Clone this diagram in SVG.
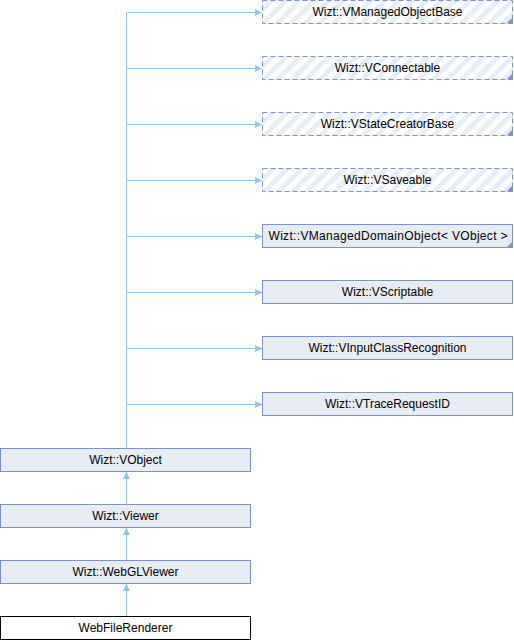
<svg xmlns="http://www.w3.org/2000/svg" width="514" height="640" viewBox="0 0 514 640">
<defs>
<pattern id="hatch" patternUnits="userSpaceOnUse" width="10" height="10" patternTransform="rotate(45)">
<rect width="10" height="10" fill="#ffffff"/>
<rect x="0" y="0" width="5" height="10" fill="#e8ecf5"/>
</pattern>
<marker id="arr" viewBox="0 0 10 10" refX="10" refY="5" markerWidth="7" markerHeight="7" markerUnits="userSpaceOnUse" orient="auto">
<path d="M0,0 L10,5 L0,10 z" fill="#8fc3e8"/>
</marker>
</defs>
<style>
.n{fill:#e8ecf5;stroke:#7b93c9;stroke-width:1}
.d{fill:url(#hatch);stroke:#7b93c9;stroke-width:1;stroke-dasharray:5,3}
.w{fill:#ffffff;stroke:#000000;stroke-width:1}
.t{font-family:"Liberation Sans",Arial,sans-serif;font-size:12px;fill:#000000}
.c{text-anchor:middle}
.e{fill:none;stroke:#8fc3e8;stroke-width:1}
.tri{fill:#7b93c9}
</style>
<g id="connectors">
<path class="e" d="M126.5,448 V12.5"/>
<path class="e" d="M126.5,12.5 H262" marker-end="url(#arr)"/>
<path class="e" d="M126.5,68.5 H262" marker-end="url(#arr)"/>
<path class="e" d="M126.5,124.5 H262" marker-end="url(#arr)"/>
<path class="e" d="M126.5,180.5 H262" marker-end="url(#arr)"/>
<path class="e" d="M126.5,236.5 H262" marker-end="url(#arr)"/>
<path class="e" d="M126.5,292.5 H262" marker-end="url(#arr)"/>
<path class="e" d="M126.5,348.5 H262" marker-end="url(#arr)"/>
<path class="e" d="M126.5,404.5 H262" marker-end="url(#arr)"/>
<path class="e" d="M126.5,504 V472" marker-end="url(#arr)"/>
<path class="e" d="M126.5,560 V528" marker-end="url(#arr)"/>
<path class="e" d="M126.5,616 V584" marker-end="url(#arr)"/>
</g>
<g id="n1"><rect class="d" x="262.5" y="0.5" width="250" height="23"/><path class="tri" d="M513,17 L513,23.5 L506.5,23.5 z"/><text class="t c" x="387.5" y="16">Wizt::VManagedObjectBase</text></g>
<g id="n2"><rect class="d" x="262.5" y="56.5" width="250" height="23"/><path class="tri" d="M513,73 L513,79.5 L506.5,79.5 z"/><text class="t c" x="387.5" y="72">Wizt::VConnectable</text></g>
<g id="n3"><rect class="d" x="262.5" y="112.5" width="250" height="23"/><path class="tri" d="M513,129 L513,135.5 L506.5,135.5 z"/><text class="t c" x="387.5" y="128">Wizt::VStateCreatorBase</text></g>
<g id="n4"><rect class="d" x="262.5" y="168.5" width="250" height="23"/><path class="tri" d="M513,185 L513,191.5 L506.5,191.5 z"/><text class="t c" x="387.5" y="184">Wizt::VSaveable</text></g>
<g id="n5"><rect class="n" x="262.5" y="224.5" width="250" height="23"/><path class="tri" d="M513,241 L513,247.5 L506.5,247.5 z"/><text class="t" x="268.5" y="240" textLength="239" lengthAdjust="spacing">Wizt::VManagedDomainObject&lt; VObject &gt;</text></g>
<g id="n6"><rect class="n" x="262.5" y="280.5" width="250" height="23"/><text class="t c" x="387.5" y="296">Wizt::VScriptable</text></g>
<g id="n7"><rect class="n" x="262.5" y="336.5" width="250" height="23"/><text class="t c" x="387.5" y="352">Wizt::VInputClassRecognition</text></g>
<g id="n8"><rect class="n" x="262.5" y="392.5" width="250" height="23"/><text class="t c" x="387.5" y="408">Wizt::VTraceRequestID</text></g>
<g id="n9"><rect class="n" x="0.5" y="448.5" width="250" height="23"/><text class="t c" x="125.5" y="464">Wizt::VObject</text></g>
<g id="n10"><rect class="n" x="0.5" y="504.5" width="250" height="23"/><text class="t c" x="125.5" y="520">Wizt::Viewer</text></g>
<g id="n11"><rect class="n" x="0.5" y="560.5" width="250" height="23"/><text class="t c" x="125.5" y="576">Wizt::WebGLViewer</text></g>
<g id="n12"><rect class="w" x="0.5" y="616.5" width="250" height="23"/><text class="t c" x="125.5" y="632">WebFileRenderer</text></g>
</svg>
